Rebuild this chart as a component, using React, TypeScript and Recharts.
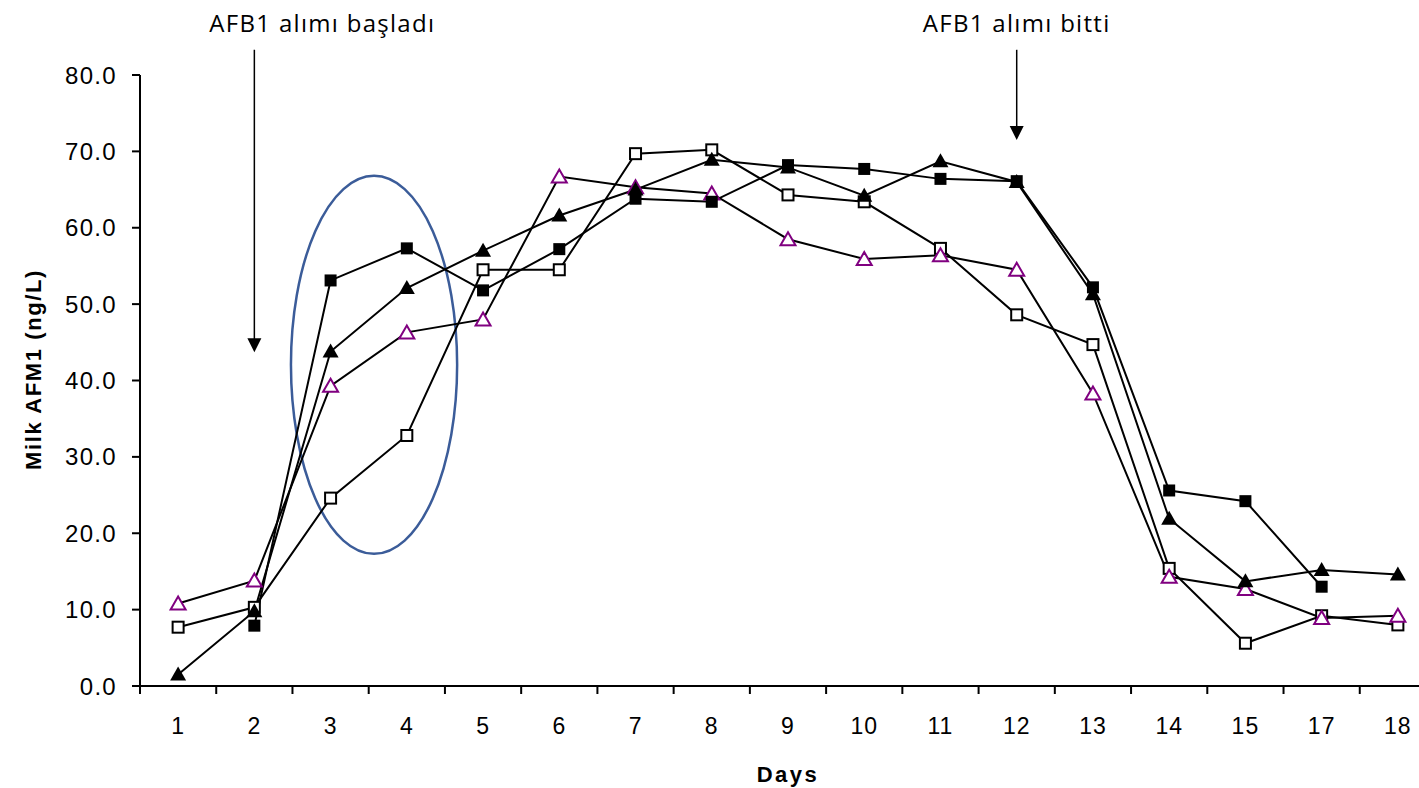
import React from "react";
import {
  LineChart,
  Line,
  XAxis,
  YAxis,
  ReferenceLine,
  ReferenceArea,
} from "recharts";

// Sampling days (day 16 was not sampled)
const days = ["1", "2", "3", "4", "5", "6", "7", "8", "9", "10", "11", "12", "13", "14", "15", "17", "18"];

// Milk AFM1 (ng/L) per animal
const filledSquare = [null, 7.9, 53.1, 57.3, 51.8, 57.2, 63.8, 63.4, 68.2, 67.7, 66.4, 66.1, 52.2, 25.6, 24.2, 13.0, null];
const filledTriangle = [1.5, 9.8, 43.8, 52.1, 57.0, 61.6, 65.0, 68.9, 67.9, 64.2, 68.7, 66.0, 51.3, 21.9, 13.7, 15.2, 14.6];
const openSquare = [7.7, 10.3, 24.6, 32.8, 54.5, 54.5, 69.7, 70.2, 64.3, 63.4, 57.3, 48.6, 44.7, 15.4, 5.6, 9.2, 8.0];
const openTriangle = [10.8, 13.8, 39.3, 46.3, 48.0, 66.7, 65.3, 64.5, 58.5, 55.9, 56.4, 54.5, 38.3, 14.3, 12.7, 8.9, 9.2];

const yTicks = [0, 10, 20, 30, 40, 50, 60, 70, 80];

const data = days.map((d, i) => ({
  pos: i + 1,
  day: d,
  a: filledSquare[i],
  b: filledTriangle[i],
  c: openSquare[i],
  d: openTriangle[i],
}));

// integer positions carry the day labels, half positions carry the tick marks
const xTicks: number[] = [];
for (let i = 0; i <= days.length; i++) {
  xTicks.push(i + 0.5);
  if (i < days.length) xTicks.push(i + 1);
}

const AXIS_FONT = "'Liberation Sans', Arial, sans-serif";
const NOTE_FONT = "'Open Sans', 'Noto Sans', sans-serif";

const XTick = (props: any) => {
  const { x, y, payload } = props;
  const v = payload.value as number;
  if (Number.isInteger(v)) {
    return (
      <text
        x={x}
        y={y + 48}
        textAnchor="middle"
        fontSize={23}
        letterSpacing={1}
        fontFamily={AXIS_FONT}
        fill="#000"
      >
        {days[v - 1]}
      </text>
    );
  }
  return <line x1={x} x2={x} y1={y} y2={y + 8} stroke="#000" strokeWidth={2} />;
};

const YTick = (props: any) => {
  const { x, y, payload } = props;
  return (
    <text
      x={x}
      y={y}
      textAnchor="end"
      dominantBaseline="central"
      fontSize={24}
      letterSpacing={1.3}
      fontFamily={AXIS_FONT}
      fill="#000"
    >
      {(payload.value as number).toFixed(1)}
    </text>
  );
};

const FilledSquareDot = (p: any) => {
  if (p.cx == null || p.cy == null || p.value == null) return <g />;
  return <rect x={p.cx - 6} y={p.cy - 6} width={12} height={12} fill="#000" />;
};
const OpenSquareDot = (p: any) => {
  if (p.cx == null || p.cy == null || p.value == null) return <g />;
  return <rect x={p.cx - 5.5} y={p.cy - 5.5} width={11} height={11} fill="#fff" stroke="#000" strokeWidth={2} />;
};
const FilledTriangleDot = (p: any) => {
  if (p.cx == null || p.cy == null || p.value == null) return <g />;
  const { cx, cy } = p;
  return <path d={`M${cx},${cy - 8} L${cx + 8},${cy + 6} L${cx - 8},${cy + 6} Z`} fill="#000" />;
};
const OpenTriangleDot = (p: any) => {
  if (p.cx == null || p.cy == null || p.value == null) return <g />;
  const { cx, cy } = p;
  return (
    <path
      d={`M${cx},${cy - 7} L${cx + 7.5},${cy + 6} L${cx - 7.5},${cy + 6} Z`}
      fill="#fff"
      stroke="#800080"
      strokeWidth={2}
    />
  );
};

// arrow with a caption above it
const arrowShape = (caption: string, textShift: number) => (p: any) => {
  const { x1, y1, x2, y2 } = p;
  return (
    <g>
      <text
        x={x1 + textShift}
        y={y1 - 18}
        textAnchor="middle"
        fontSize={24}
        letterSpacing={1.3}
        fontFamily={NOTE_FONT}
        fill="#000"
      >
        {caption}
      </text>
      <line x1={x1} y1={y1} x2={x2} y2={y2 - 12} stroke="#000" strokeWidth={1.5} />
      <path d={`M${x2 - 7},${y2 - 14} L${x2 + 7},${y2 - 14} L${x2},${y2} Z`} fill="#000" />
    </g>
  );
};

const EllipseShape = (p: any) => {
  const { x, y, width, height } = p;
  return (
    <ellipse
      cx={x + width / 2}
      cy={y + height / 2}
      rx={width / 2}
      ry={height / 2}
      fill="none"
      stroke="#3B5C99"
      strokeWidth={2.5}
    />
  );
};

const YLabel = (p: any) => {
  const vb = p.viewBox;
  const cx = vb.x + 33;
  const cy = vb.y + vb.height / 2 - 11;
  return (
    <text
      x={cx}
      y={cy}
      transform={`rotate(-90 ${cx} ${cy})`}
      textAnchor="middle"
      dominantBaseline="central"
      fontSize={22}
      letterSpacing={1.6}
      fontWeight="bold"
      fontFamily={AXIS_FONT}
      fill="#000"
    >
      Milk AFM1 (ng/L)
    </text>
  );
};

const XLabel = (p: any) => {
  const vb = p.viewBox;
  return (
    <text
      x={vb.x + vb.width / 2}
      y={vb.y + 96}
      textAnchor="middle"
      fontSize={22}
      letterSpacing={2.5}
      fontWeight="bold"
      fontFamily={AXIS_FONT}
      fill="#000"
    >
      Days
    </text>
  );
};

export default function App() {
  return (
    <div style={{ position: "absolute", left: 0, top: 0, width: 1419, height: 788, overflow: "hidden", background: "#fff" }}>
      <LineChart
        width={1437}
        height={788}
        data={data}
        margin={{ top: 75, right: 1, bottom: 0, left: 0 }}
      >
        <XAxis
          dataKey="pos"
          type="number"
          domain={[0.5, 17.5]}
          ticks={xTicks}
          interval={0}
          tickLine={false}
          tickSize={0}
          tickMargin={0}
          tick={<XTick />}
          height={102}
          axisLine={{ stroke: "#000", strokeWidth: 2 }}
          label={<XLabel />}
        />
        <YAxis
          domain={[0, 80]}
          ticks={yTicks}
          interval={0}
          width={140}
          tick={<YTick />}
          tickSize={8}
          tickMargin={15}
          tickLine={{ stroke: "#000", strokeWidth: 2 }}
          axisLine={{ stroke: "#000", strokeWidth: 2 }}
          label={<YLabel />}
        />
        <ReferenceArea
          x1={2.48}
          x2={4.66}
          y1={17.3}
          y2={66.8}
          ifOverflow="visible"
          shape={<EllipseShape />}
        />
        <ReferenceLine
          segment={[{ x: 2, y: 83.3 }, { x: 2, y: 43.7 }]}
          ifOverflow="visible"
          shape={arrowShape("AFB1 alımı başladı", 68)}
        />
        <ReferenceLine
          segment={[{ x: 12, y: 83.3 }, { x: 12, y: 71.5 }]}
          ifOverflow="visible"
          shape={arrowShape("AFB1 alımı bitti", 0)}
        />
        <Line dataKey="c" stroke="#000" strokeWidth={2} dot={<OpenSquareDot />} isAnimationActive={false} />
        <Line dataKey="d" stroke="#000" strokeWidth={2} dot={<OpenTriangleDot />} isAnimationActive={false} />
        <Line dataKey="a" stroke="#000" strokeWidth={2} dot={<FilledSquareDot />} isAnimationActive={false} />
        <Line dataKey="b" stroke="#000" strokeWidth={2} dot={<FilledTriangleDot />} isAnimationActive={false} />
      </LineChart>
    </div>
  );
}
